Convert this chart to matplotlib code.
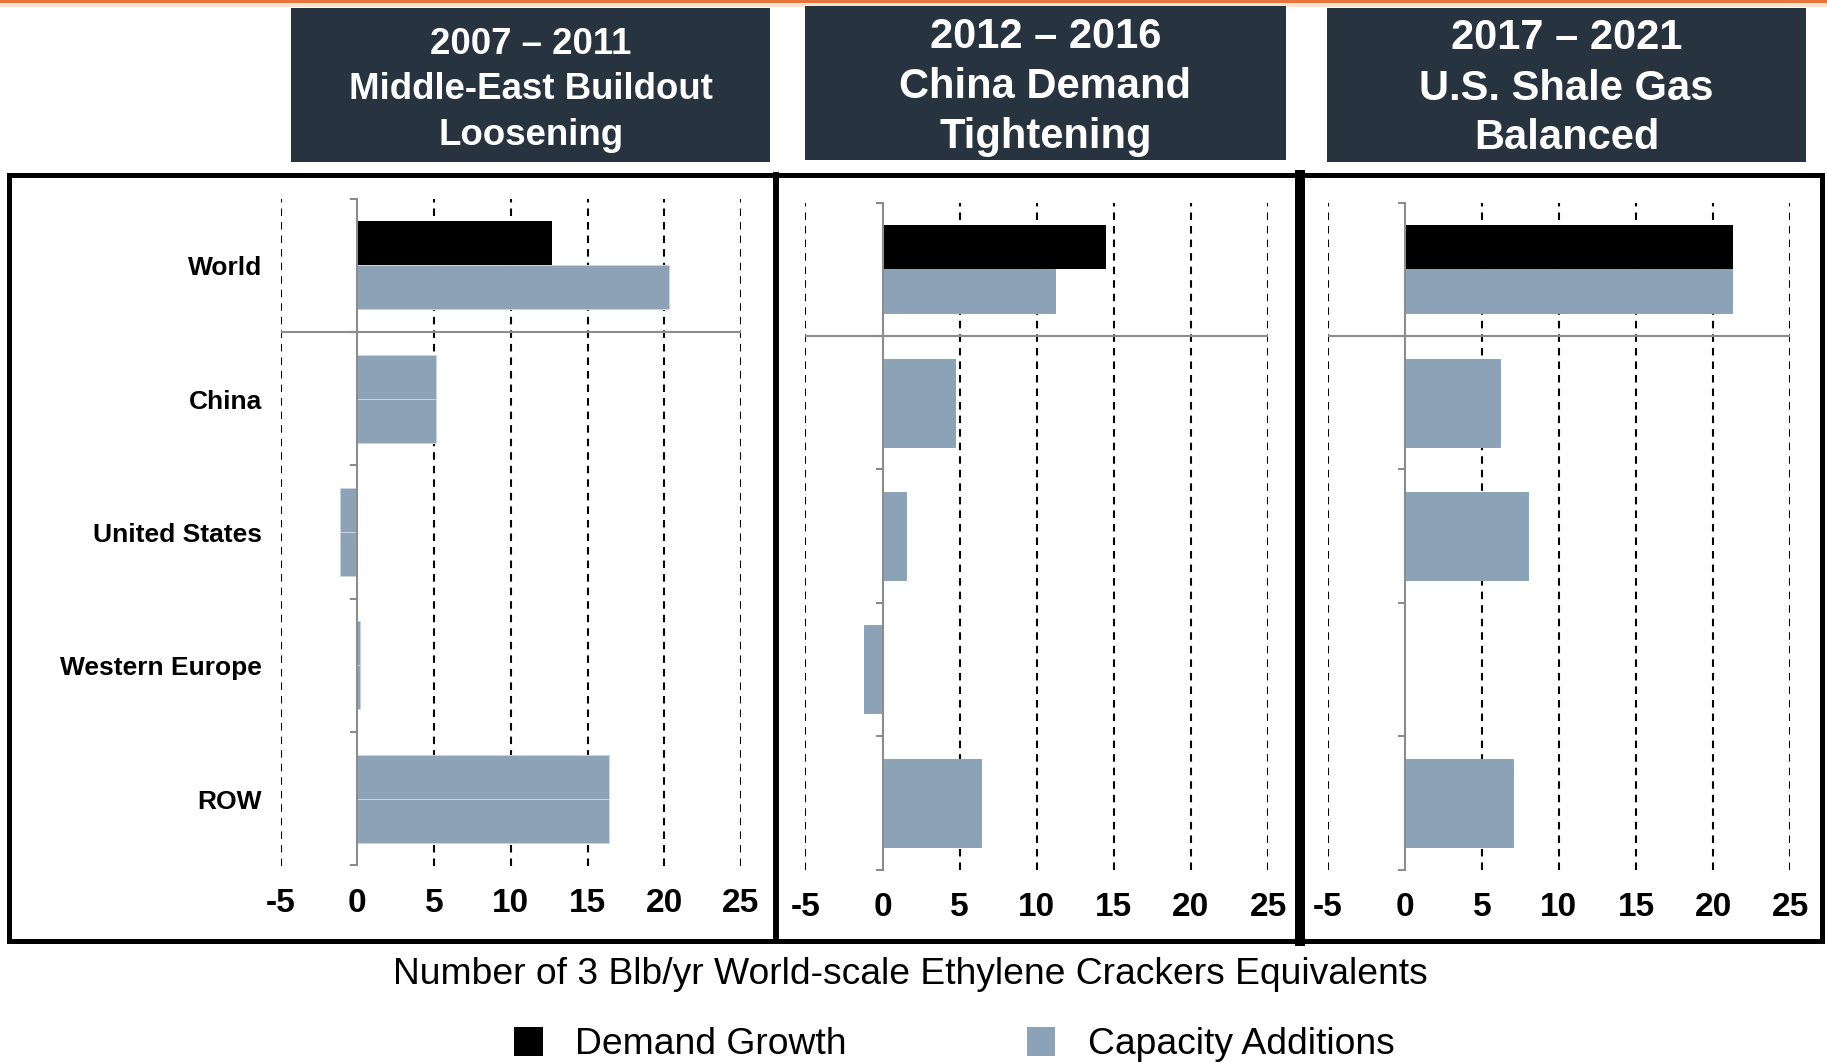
import numpy as np
import matplotlib.pyplot as plt
from matplotlib.patches import Rectangle
from matplotlib.lines import Line2D

# regions on the y axis, top to bottom
categories = ['World', 'China', 'United States', 'Western Europe', 'ROW']

# header text for each period
period_titles = [
    ['2007 \u2013 2011', 'Middle-East Buildout', 'Loosening'],
    ['2012 \u2013 2016', 'China Demand', 'Tightening'],
    ['2017 \u2013 2021', 'U.S. Shale Gas', 'Balanced'],
]

# demand growth (World only), in 3 Blb/yr cracker equivalents
demand_growth = [12.7, 14.5, 21.3]

# capacity additions per region and period
capacity_2007_2011 = [20.3, 5.1, -1.1, 0.2, 16.4]
capacity_2012_2016 = [11.2, 4.7, 1.5, -1.2, 6.4]
capacity_2017_2021 = [21.2, 6.2, 8.0, 0.0, 7.0]
capacity = [capacity_2007_2011, capacity_2012_2016, capacity_2017_2021]

x_ticks = [-5, 0, 5, 10, 15, 20, 25]

W, H = 1827, 1062
DARK = '#27333f'
CAP = '#8ca3b7'
GREY = '#8c8c8c'
FONT = ['Liberation Sans', 'DejaVu Sans']

plt.rcParams['font.family'] = FONT


def fx(x):
    return x / W


def fy(y):
    return 1 - y / H


fig = plt.figure(figsize=(W / 100, H / 100), dpi=100)

# axes boxes in pixels: left, right, top, bottom
panels = [(280.6, 741.0, 198.7, 865.5),
          (805.4, 1268.1, 202.5, 869.5),
          (1327.5, 1790.3, 202.5, 869.5)]
bar_edges = ['#c9d6e1', CAP, CAP]

y = np.arange(len(categories))
h = 0.33

for i, (l, r, t, b) in enumerate(panels):
    ax = fig.add_axes([fx(l), fy(b), (r - l) / W, (b - t) / H])
    cap = np.array(capacity[i])
    edge = bar_edges[i]

    ax.barh(y[0] - h / 2, demand_growth[i], height=h, color='black', zorder=2)
    ax.barh(y + h / 2, cap, height=h, color=CAP, edgecolor=edge,
            linewidth=0.7, zorder=2)
    ax.barh(y[1:] - h / 2, cap[1:], height=h, color=CAP, edgecolor=edge,
            linewidth=0.7, zorder=2)

    ax.set_xlim(-5, 25)
    ax.set_ylim(len(categories) - 0.5, -0.5)

    for xv in x_ticks:
        if xv != 0:
            ax.axvline(xv, color='black', lw=1.5, linestyle=(0, (3.6, 2.9)), zorder=0.5)
    ax.axhline(0.5, color=GREY, lw=1.5, zorder=1.5)

    for side in ['top', 'right', 'bottom']:
        ax.spines[side].set_visible(False)
    ax.spines['left'].set_position(('data', 0))
    ax.spines['left'].set_color(GREY)
    ax.spines['left'].set_linewidth(1.5)
    ax.spines['left'].set_zorder(3)

    ax.set_yticks(np.arange(-0.5, len(categories), 1.0))
    ax.set_yticklabels([])
    ax.tick_params(axis='y', direction='out', length=5, width=1.5, color=GREY)

    ax.set_xticks(x_ticks)
    ax.set_xticklabels([str(v) for v in x_ticks], fontweight='bold', fontsize=24)
    ax.tick_params(axis='x', length=0, pad=16)
    ax.patch.set_visible(False)

    if i == 0:
        for yi, name in zip(y, categories):
            ax.annotate(name, xy=(0, yi), xycoords=('axes fraction', 'data'),
                        xytext=(-13.4, -2), textcoords='offset points',
                        ha='right', va='center', fontweight='bold', fontsize=19)

# thin orange rule along the top edge
fig.add_artist(Rectangle((0, fy(3)), 1, 3 / H, transform=fig.transFigure,
                         color='#e5743c', lw=0))
fig.add_artist(Rectangle((0, fy(7)), 1, 4 / H, transform=fig.transFigure,
                         color='#fbe3cf', lw=0))

# period header boxes
boxes = [(290.8, 770.4, 8.0, 161.7), (805.4, 1285.5, 6.0, 160.0),
         (1326.9, 1806.3, 8.0, 161.7)]
baselines = [(54.3, 99.0, 145.0), (48.0, 98.5, 148.0), (49.0, 99.5, 149.0)]
sizes = [26.4, 30, 30]
for i, ((l, r, t, b), lines) in enumerate(zip(boxes, period_titles)):
    fig.add_artist(Rectangle((fx(l), fy(b)), (r - l) / W, (b - t) / H,
                             transform=fig.transFigure, color=DARK, lw=0))
    for line, yb in zip(lines, baselines[i]):
        fig.text(fx((l + r) / 2), fy(yb), line, ha='center', va='baseline',
                 color='white', fontweight='bold', fontsize=sizes[i])

# outer frame and panel dividers
fig.add_artist(Rectangle((fx(9), fy(940.5)), (1822 - 9) / W, (940.5 - 175) / H,
                         transform=fig.transFigure, fill=False,
                         edgecolor='black', lw=3.6))
for xd, lw in [(776, 4.3), (1300, 7.2)]:
    fig.add_artist(Line2D([fx(xd), fx(xd)], [fy(175), fy(940.5)],
                          transform=fig.transFigure, color='black', lw=lw))

fig.text(fx(910), fy(984.5), 'Number of 3 Blb/yr World-scale Ethylene Crackers Equivalents',
         ha='center', va='baseline', fontsize=26.8)

# legend
for (x0, label, color) in [(514, 'Demand Growth', 'black'),
                           (1026.5, 'Capacity Additions', CAP)]:
    fig.add_artist(Rectangle((fx(x0), fy(1055.7)), 28.7 / W, 28.4 / H,
                             transform=fig.transFigure, color=color, lw=0))
    fig.text(fx(x0 + 61), fy(1053.5), label, ha='left', va='baseline',
             fontsize=26.8)

fig.savefig('out.png', dpi=100)
